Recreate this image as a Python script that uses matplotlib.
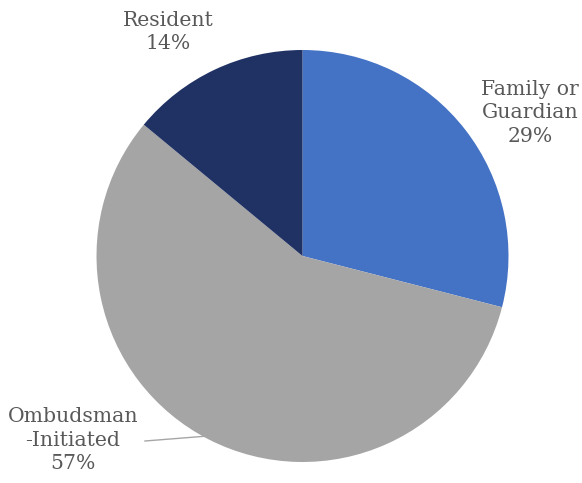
import matplotlib.pyplot as plt

labels = ['Family or\nGuardian', 'Ombudsman\n-Initiated', 'Resident']
shares = [29, 57, 14]
colors = ['#4472C4', '#A5A5A5', '#203264']

W, H = 582, 483
fig = plt.figure(figsize=(W / 100, H / 100), dpi=100)
ax = fig.add_axes([0, 0, 1, 1])

cx, cy, r = 302.5, H - 256, 206
ax.pie(shares, colors=colors, startangle=90, counterclock=False,
       center=(cx, cy), radius=r, frame=True,
       wedgeprops=dict(linewidth=0))
ax.set_xlim(0, W)
ax.set_ylim(0, H)
ax.set_aspect('equal')
ax.axis('off')

# label positions (centre of each text block)
label_pos = [(530, H - 113), (73, H - 440), (168, H - 32)]
txt = dict(ha='center', va='center', color='#595959', family='DejaVu Serif',
           fontsize=14.7, linespacing=1.33)
for (lx, ly), lab, v in zip(label_pos, labels, shares):
    ax.text(lx, ly, f'{lab}\n{v}%', **txt)

# leader line for the bottom-left label
ax.plot([145, 208], [H - 441, H - 436], color='#A6A6A6', lw=1)

fig.savefig('out.png', dpi=100)
